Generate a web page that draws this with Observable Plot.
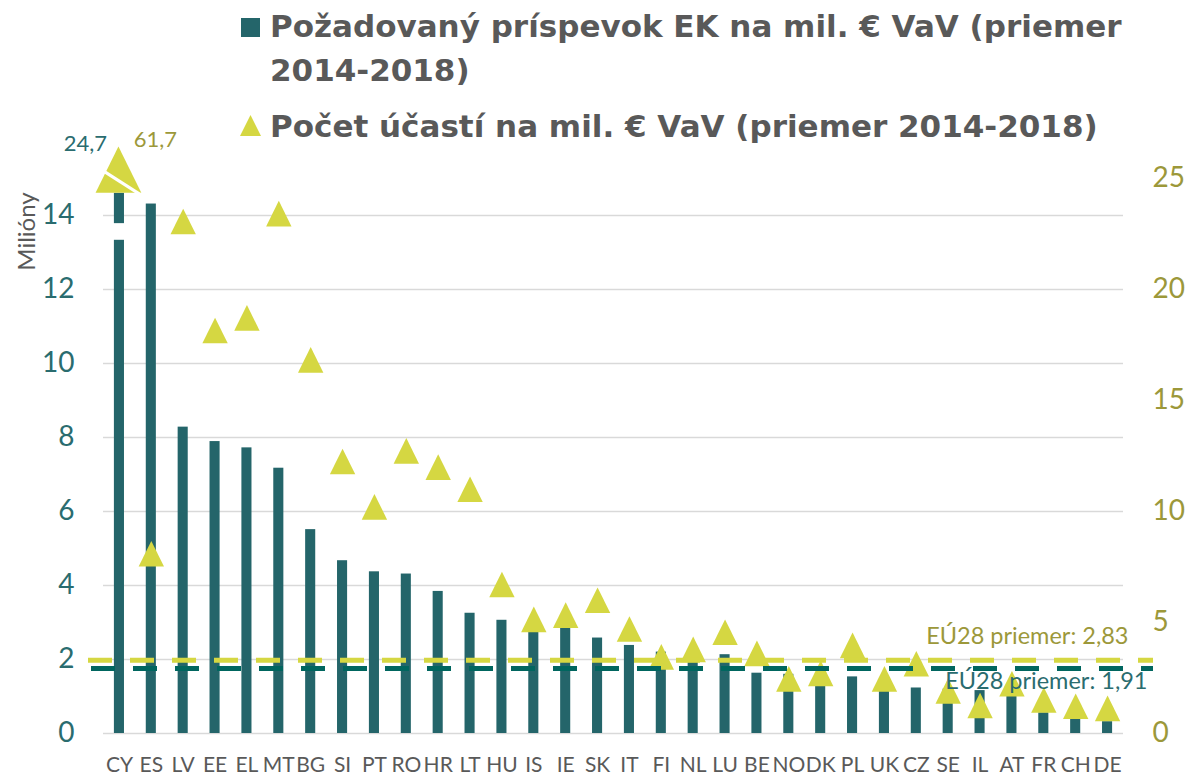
<!DOCTYPE html>
<html>
<head>
<meta charset="utf-8">
<script src="https://cdn.jsdelivr.net/npm/d3@7"></script>
<script src="https://cdn.jsdelivr.net/npm/@observablehq/plot@0.6"></script>
<style>
  body { margin: 0; background: #fff; }
  #wrap { position: relative; width: 1189px; height: 775px; overflow: hidden; }
  #legend { position: absolute; left: 0; top: 0; }
  #legend text { font-family: "DejaVu Sans", sans-serif; font-weight: bold; fill: #595959; font-size: 31px; }
</style>
</head>
<body>
<div id="wrap">
  <div id="chart"></div>
  <svg id="legend" width="1189" height="150"></svg>
</div>
<script>
// ---------- data ----------
const countries = ["CY","ES","LV","EE","EL","MT","BG","SI","PT","RO","HR","LT","HU","IS","IE","SK","IT","FI","NL","LU","BE","NO","DK","PL","UK","CZ","SE","IL","AT","FR","CH","DE"];
// Požadovaný príspevok EK na mil. € VaV (left axis, milióny)
const contribution = [24.7,14.31,8.28,7.89,7.72,7.17,5.51,4.67,4.37,4.31,3.84,3.25,3.06,2.9,2.84,2.58,2.38,2.2,2.17,2.13,1.63,1.6,1.56,1.53,1.3,1.23,1.2,1.16,1.05,0.56,0.38,0.32];
// Počet účastí na mil. € VaV (right axis)
const participations = [61.7,8.1,23.06,18.15,18.72,23.42,16.83,12.25,10.21,12.73,12.0,11.0,6.71,5.14,5.33,6.0,4.71,3.45,3.79,4.56,3.61,2.46,2.71,3.97,2.46,3.14,1.92,1.26,2.24,1.51,1.23,1.13];
const leftTicks = [0,2,4,6,8,10,12,14];
const rightTicks = [0,5,10,15,20,25];
const leftMax = 15;
const rightMax = 25;
// axis break display (values beyond the axis)
const barCap = 14.6;
const barBreak = [13.33, 13.78];
const triCap = 25.4;
// EU28 averages: label values and line levels as read on the left axis
const avgValues = [2.83, 1.91];
const avgLevels = [1.98, 1.76];
const legendItems = ["Požadovaný príspevok EK na mil. € VaV (priemer", "2014-2018)", "Počet účastí na mil. € VaV (priemer 2014-2018)"];

// ---------- colours ----------
const cBar = "#24656A", cTri = "#D5D742", cTeal = "#00665F", cTealText = "#2A6C6F", cOlive = "#9C983A", cGray = "#595959";

const rows = countries.map((c, i) => ({country: c, contribution: contribution[i], participations: participations[i]}));
const toLeft = v => v * leftMax / rightMax;
const fmt = v => d3.format(".2f")(v).replace(/0$/, "").replace(".", ",");
const fmt1 = v => d3.format(".1f")(v).replace(".", ",");

const tri = {draw(ctx, size) { const r = Math.sqrt(size / Math.PI); const w = 1.27 * r, h = 1.28 * r; ctx.moveTo(0, -h); ctx.lineTo(w, h); ctx.lineTo(-w, h); ctx.closePath(); }};
const slash = {draw(ctx) { ctx.moveTo(-14, 2); ctx.lineTo(22, 25); }};

const overBar = rows.filter(d => d.contribution > barCap);
const overTri = rows.filter(d => d.participations > rightMax);
const barInset = 10.9;

const chart = Plot.plot({
  width: 1189, height: 775,
  marginTop: 178, marginBottom: 42, marginLeft: 103, marginRight: 66,
  style: {fontFamily: "Lato, sans-serif", background: "white", overflow: "visible"},
  x: {domain: countries, padding: 0, round: false, label: null},
  y: {domain: [0, leftMax], label: null},
  marks: [
    Plot.gridY(leftTicks, {stroke: "#D9D9D9", strokeOpacity: 1, strokeWidth: 1.5}),
    Plot.axisX({tickSize: 0, tickPadding: 24, fontSize: 21, fill: cGray, label: null}),
    Plot.axisY({ticks: leftTicks, tickSize: 0, tickPadding: 29, fontSize: 28, fill: cTealText, label: null}),
    Plot.axisY({anchor: "right", ticks: rightTicks.map(toLeft), tickFormat: d => Math.round(d * rightMax / leftMax), tickSize: 0, tickPadding: 29, fontSize: 28, fill: cOlive, label: null}),
    Plot.text(["Milióny"], {frameAnchor: "top-left", text: d => d, rotate: -90, textAnchor: "middle", lineAnchor: "middle", dx: -76, dy: 53, fontSize: 24, fill: cGray}),
    Plot.barY(rows, {x: "country", y: d => Math.min(d.contribution, barCap), fill: cBar, insetLeft: barInset, insetRight: barInset}),
    Plot.barY(overBar, {x: "country", y1: barBreak[0], y2: barBreak[1], fill: "white", insetLeft: barInset - 2, insetRight: barInset - 2}),
    Plot.dot(rows.filter(d => d.participations <= rightMax), {x: "country", y: d => toLeft(d.participations), symbol: tri, r: 10, fill: cTri}),
    Plot.dot(overTri, {x: "country", y: () => toLeft(triCap), symbol: tri, r: 18, fill: cTri, dx: -1}),
    Plot.dot(overTri, {x: "country", y: () => toLeft(triCap), symbol: slash, r: 10, fill: "none", stroke: "white", strokeWidth: 3, dx: -1}),
    Plot.ruleY([avgLevels[0]], {stroke: cTri, strokeWidth: 5, strokeDasharray: "24,18", insetLeft: -15, insetRight: -30}),
    Plot.ruleY([avgLevels[1]], {stroke: cTeal, strokeWidth: 5, strokeDasharray: "24,18", insetLeft: -12, insetRight: -30}),
    Plot.text(overBar, {x: "country", y: () => barCap, text: d => fmt1(d.contribution), dx: -34, dy: -49, fontSize: 22, fill: cTealText}),
    Plot.text(overTri, {x: "country", y: () => toLeft(triCap), text: d => fmt1(d.participations), dx: 36, dy: -30, fontSize: 22, fill: cOlive}),
    Plot.text([avgValues[0]], {y: avgLevels[0], frameAnchor: "right", text: d => "EÚ28 priemer: " + fmt(d), textAnchor: "end", dx: 5, dy: -24, fontSize: 23.5, fill: cOlive}),
    Plot.text([avgValues[1]], {y: avgLevels[1], frameAnchor: "right", text: d => "EÚ28 priemer: " + fmt(d), textAnchor: "end", dx: 24, dy: 13, fontSize: 23.5, fill: cTealText})
  ]
});
document.getElementById("chart").appendChild(chart);

// ---------- legend ----------
const leg = d3.select("#legend");
leg.append("rect").attr("x", 241).attr("y", 18).attr("width", 19).attr("height", 19).attr("fill", cBar);
leg.append("text").attr("x", 270).attr("y", 37).text(legendItems[0]);
leg.append("text").attr("x", 270).attr("y", 81).text(legendItems[1]);
leg.append("path").attr("d", d3.line()([[250.5,115],[261,136],[240,136]]) + "Z").attr("fill", cTri);
leg.append("text").attr("x", 270).attr("y", 137).text(legendItems[2]);
</script>
</body>
</html>
